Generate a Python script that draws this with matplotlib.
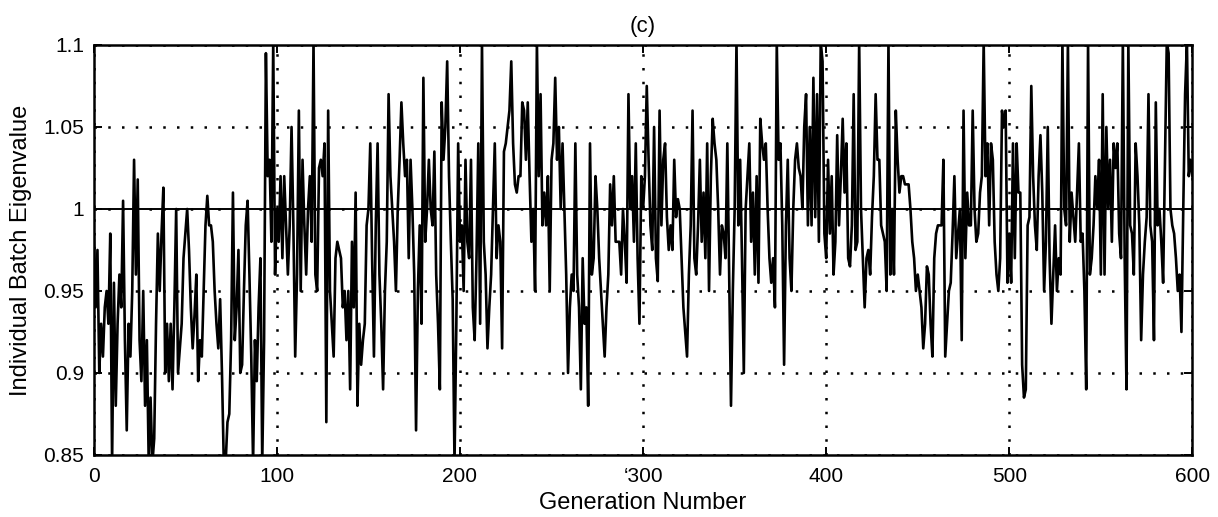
import matplotlib
matplotlib.use('Agg')
import matplotlib.pyplot as plt
import numpy as np

# Eigenvalue, one value per generation (0..600)
EIG_0_99 = [
    0.985, 0.94, 0.975, 0.90, 0.93, 0.91, 0.94, 0.95, 0.93, 0.985,
    0.845, 0.955, 0.88, 0.93, 0.96, 0.94, 1.005, 0.92, 0.865, 0.93,
    0.91, 0.95, 1.03, 0.96, 1.018, 0.92, 0.895, 0.95, 0.88, 0.92,
    0.845, 0.885, 0.845, 0.86, 0.93, 0.985, 0.95, 0.985, 1.013, 0.90,
    0.93, 0.895, 0.93, 0.89, 0.94, 1.0, 0.90, 0.915, 0.93, 0.97,
    0.985, 1.0, 0.975, 0.94, 0.915, 0.935, 0.96, 0.895, 0.92, 0.91,
    0.95, 0.99, 1.008, 0.99, 0.99, 0.98, 0.95, 0.93, 0.915, 0.945,
    0.90, 0.845, 0.845, 0.87, 0.875, 0.92, 1.01, 0.92, 0.94, 0.975,
    0.90, 0.905, 0.95, 0.99, 1.005, 0.96, 0.91, 0.845, 0.92, 0.895,
    0.94, 0.97, 0.845, 0.92, 1.095, 1.02, 1.03, 0.98, 1.102, 0.96,
]
EIG_100_199 = [
    1.0, 0.98, 1.02, 0.97, 1.02, 0.99, 0.96, 0.99, 1.05, 0.99,
    0.91, 0.96, 1.06, 0.95, 1.03, 0.99, 0.96, 1.0, 1.02, 0.98,
    1.102, 0.96, 0.95, 1.025, 1.03, 1.02, 1.04, 0.87, 1.06, 0.95,
    0.93, 0.91, 0.97, 0.98, 0.975, 0.97, 0.94, 0.95, 0.92, 0.95,
    0.89, 0.98, 0.94, 1.01, 0.88, 0.93, 0.905, 0.92, 0.93, 0.99,
    1.0, 1.04, 0.97, 0.91, 0.99, 1.04, 0.96, 0.93, 0.89, 0.95,
    0.98, 1.07, 1.02, 1.0, 0.98, 0.95, 1.0, 1.03, 1.065, 1.04,
    1.02, 1.03, 0.97, 1.03, 1.0, 0.96, 0.865, 0.95, 0.99, 0.93,
    1.08, 0.98, 1.0, 1.03, 1.0, 0.99, 1.035, 0.96, 0.93, 0.89,
    1.065, 1.03, 1.05, 1.09, 1.02, 0.98, 0.945, 0.845, 0.93, 1.04,
]
EIG_200_299 = [
    0.98, 0.99, 0.95, 1.03, 0.98, 0.97, 1.03, 0.94, 0.92, 0.97,
    1.04, 0.93, 1.102, 0.98, 0.96, 0.915, 0.94, 0.96, 1.0, 1.04,
    0.97, 0.99, 0.98, 0.915, 1.035, 1.04, 1.05, 1.06, 1.09, 1.04,
    1.015, 1.01, 1.02, 1.02, 1.065, 1.06, 1.03, 1.065, 1.02, 0.98,
    1.0, 0.95, 1.102, 1.02, 1.07, 0.99, 1.01, 0.99, 1.02, 0.95,
    1.03, 1.04, 1.08, 1.03, 1.05, 1.0, 1.04, 1.0, 0.96, 0.90,
    0.94, 0.96, 0.95, 1.04, 0.96, 0.94, 0.89, 0.97, 0.93, 0.94,
    0.88, 1.04, 0.96, 0.97, 1.02, 1.0, 0.97, 0.95, 0.93, 0.91,
    0.94, 0.96, 1.015, 0.99, 1.02, 0.98, 0.98, 0.98, 0.96, 1.0,
    0.98, 0.955, 1.07, 1.0, 1.02, 0.98, 1.04, 0.97, 0.93, 1.02,
]
EIG_300_399 = [
    1.0, 1.02, 1.075, 1.03, 0.99, 0.975, 1.05, 0.97, 0.956, 1.06,
    0.99, 1.03, 1.04, 0.995, 0.975, 0.99, 0.975, 1.03, 0.995, 1.006,
    1.0, 0.97, 0.94, 0.925, 0.91, 0.96, 0.99, 1.06, 0.97, 0.96,
    0.99, 1.03, 0.98, 1.01, 0.97, 1.04, 0.95, 1.02, 1.055, 1.04,
    1.03, 1.0, 0.96, 0.99, 0.985, 0.97, 1.04, 0.96, 0.88, 0.95,
    1.0, 1.102, 0.99, 1.03, 0.97, 0.90, 1.0, 1.02, 1.04, 0.98,
    1.01, 0.96, 1.02, 0.955, 1.055, 1.04, 1.03, 1.04, 1.0, 0.97,
    0.955, 0.97, 0.94, 1.102, 1.03, 1.04, 0.99, 0.905, 0.99, 1.03,
    0.97, 0.95, 1.0, 1.03, 1.04, 1.025, 1.02, 1.0, 1.05, 1.07,
    0.99, 1.05, 0.99, 1.08, 0.995, 1.07, 0.98, 1.102, 1.09, 0.985,
]
EIG_400_499 = [
    0.97, 1.03, 0.985, 1.02, 0.96, 0.98, 1.045, 0.99, 1.02, 1.055,
    1.01, 1.04, 0.97, 0.965, 0.99, 1.07, 0.975, 0.98, 1.102, 1.0,
    0.97, 0.94, 0.97, 0.975, 0.96, 0.995, 1.02, 1.07, 1.03, 1.03,
    0.99, 0.985, 0.98, 0.95, 1.102, 0.96, 1.0, 0.96, 1.06, 1.03,
    1.01, 1.02, 1.02, 1.015, 1.015, 1.015, 1.0, 0.98, 0.97, 0.95,
    0.96, 0.95, 0.94, 0.915, 0.93, 0.965, 0.96, 0.93, 0.91, 0.97,
    0.985, 0.99, 0.99, 0.99, 1.03, 0.91, 0.93, 0.95, 0.955, 0.985,
    1.02, 0.97, 0.985, 1.0, 0.92, 1.06, 0.97, 1.01, 0.99, 0.99,
    1.06, 1.0, 0.98, 0.985, 1.01, 1.02, 1.102, 1.02, 1.04, 0.99,
    1.04, 1.03, 0.98, 0.96, 0.95, 0.97, 1.06, 1.05, 1.06, 0.955,
]
EIG_500_600 = [
    0.985, 0.955, 1.04, 0.97, 1.04, 1.01, 1.01, 0.905, 0.885, 0.89,
    0.99, 0.995, 1.075, 1.02, 0.99, 0.975, 1.02, 1.045, 1.01, 0.95,
    0.98, 1.05, 0.97, 0.93, 0.96, 0.99, 0.95, 0.97, 0.96, 1.102,
    1.0, 0.99, 1.102, 0.98, 1.01, 0.995, 0.98, 1.01, 1.04, 0.98,
    0.985, 0.95, 0.89, 1.102, 0.96, 0.97, 0.99, 1.02, 1.0, 1.03,
    0.96, 1.07, 0.96, 1.05, 1.0, 1.03, 0.98, 1.04, 1.025, 1.04,
    0.985, 0.97, 1.102, 0.97, 0.89, 1.102, 0.99, 0.985, 0.96, 1.04,
    1.02, 0.99, 0.92, 0.96, 0.98, 0.995, 1.07, 0.99, 0.98, 0.92,
    1.065, 0.99, 1.0, 0.98, 0.955, 1.03, 1.102, 1.095, 1.0, 0.99,
    0.985, 0.97, 0.95, 0.96, 0.925, 1.0, 1.07, 1.102, 1.02, 1.03,
    1.02,
]

eigenvalue = (EIG_0_99 + EIG_100_199 + EIG_200_299 + EIG_300_399
              + EIG_400_499 + EIG_500_600)
generation = np.arange(len(eigenvalue))

X_TICKS = [0, 100, 200, 300, 400, 500, 600]
X_TICK_LABELS = ['0', '100', '200', '\u2018300', '400', '500', '600']
Y_TICKS = [0.85, 0.9, 0.95, 1.0, 1.05, 1.1]
Y_TICK_LABELS = ['0.85', '0.9', '0.95', '1', '1.05', '1.1']

plt.rcParams['font.family'] = ['Liberation Sans', 'DejaVu Sans']

fig = plt.figure(figsize=(12.18, 5.17), dpi=100)
ax = fig.add_axes([0.077, 0.120, 0.902, 0.793])

ax.plot(generation, eigenvalue, color='black', linewidth=1.9)
ax.axhline(1.0, color='black', linewidth=1.4)

ax.set_xlim(0, 600)
ax.set_ylim(0.85, 1.1)
ax.set_xticks(X_TICKS)
ax.set_xticklabels(X_TICK_LABELS)
ax.set_yticks(Y_TICKS)
ax.set_yticklabels(Y_TICK_LABELS)
ax.tick_params(direction='in', length=6, width=1.4, top=True, right=True,
               labelsize=15)
ax.tick_params(axis='x', pad=9)
ax.tick_params(axis='y', pad=7)

ax.grid(True, color='black', linestyle=(0, (1, 4.5)), linewidth=1.8)
for side in ax.spines.values():
    side.set_linewidth(1.8)

ax.set_xlabel('Generation Number', fontsize=17, labelpad=4)
ax.set_ylabel('Individual Batch Eigenvalue', fontsize=17, labelpad=8)
ax.set_title('(c)', fontsize=16, pad=9)

fig.savefig('out.png', dpi=100)
